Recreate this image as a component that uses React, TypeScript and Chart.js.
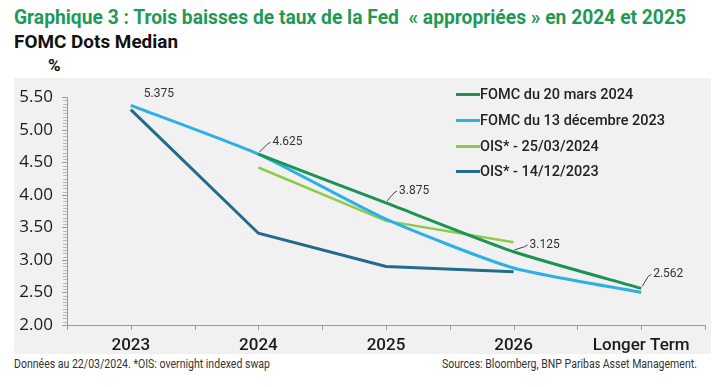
import React, { useEffect, useLayoutEffect, useRef } from "react";
import { Chart, registerables } from "chart.js";

Chart.register(...registerables);

const categories = ["2023", "2024", "2025", "2026", "Longer Term"];
const fomcMar2024 = [null, 4.625, 3.875, 3.125, 2.562];
const fomcDec2023 = [5.375, 4.625, 3.625, 2.875, 2.5];
const ois25032024 = [null, 4.42, 3.6, 3.27, null];
const ois14122023 = [5.31, 3.41, 2.9, 2.82, null];

const seriesNames = [
  "FOMC du 20 mars 2024",
  "FOMC du 13 décembre 2023",
  "OIS* - 25/03/2024",
  "OIS* - 14/12/2023",
];
const seriesColors = ["#1c9352", "#2db0e6", "#8fca4a", "#236b8c"];

const yMin = 2;
const yMax = 5.5;
const yMajorStep = 0.5;
const yMinorStep = 0.05;

const pointLabels = [
  { ds: 1, idx: 0, text: "5.375", leader: false },
  { ds: 0, idx: 1, text: "4.625", leader: true },
  { ds: 0, idx: 2, text: "3.875", leader: true },
  { ds: 0, idx: 3, text: "3.125", leader: true },
  { ds: 0, idx: 4, text: "2.562", leader: true },
];
const labelOffsets = [
  [13, -11],
  [14, -12],
  [13, -12],
  [16, -7],
  [12, -14],
];

function FitText(props: { width: number; style: React.CSSProperties; children: React.ReactNode }) {
  const ref = useRef<HTMLSpanElement>(null);
  useLayoutEffect(() => {
    const el = ref.current;
    if (!el) return;
    el.style.transform = "none";
    const w = el.getBoundingClientRect().width;
    if (w > 0) el.style.transform = `scaleX(${props.width / w})`;
  });
  return (
    <span
      ref={ref}
      style={{
        display: "inline-block",
        whiteSpace: "pre",
        transformOrigin: "0 0",
        position: "absolute",
        ...props.style,
      }}
    >
      {props.children}
    </span>
  );
}

const decorPlugin = {
  id: "decor",
  afterDraw(chart: any) {
    const ctx = chart.ctx;
    const xs = chart.scales.x;
    const ys = chart.scales.y;
    const area = chart.chartArea;
    ctx.save();
    ctx.lineWidth = 1;
    // y-axis minor/major tick marks
    const nMinor = Math.round((yMax - yMin) / yMinorStep);
    const perMajor = Math.round(yMajorStep / yMinorStep);
    for (let k = 0; k <= nMinor; k++) {
      const v = yMin + k * yMinorStep;
      const y = Math.round(ys.getPixelForValue(v)) + 0.5;
      const major = k % perMajor === 0;
      ctx.strokeStyle = major ? "#9a9a9a" : "#b8b8b8";
      ctx.beginPath();
      ctx.moveTo(area.left - (major ? 5 : 4), y);
      ctx.lineTo(area.left, y);
      ctx.stroke();
    }
    // x-axis tick marks at boundaries and centers
    ctx.strokeStyle = "#9a9a9a";
    const n = categories.length;
    const c0 = xs.getPixelForValue(0);
    const c1 = xs.getPixelForValue(1);
    const half = (c1 - c0) / 2;
    for (let i = 0; i < n; i++) {
      const c = xs.getPixelForValue(i);
      for (const x of [c - half, c, c + half]) {
        ctx.beginPath();
        ctx.moveTo(Math.round(x) + 0.5, area.bottom);
        ctx.lineTo(Math.round(x) + 0.5, area.bottom + 5);
        ctx.stroke();
      }
    }
    // data labels
    ctx.font = "12px Roboto";
    ctx.fillStyle = "#333";
    ctx.textBaseline = "middle";
    ctx.textAlign = "left";
    pointLabels.forEach((pl, k) => {
      const meta = chart.getDatasetMeta(pl.ds);
      const pt = meta.data[pl.idx];
      if (!pt) return;
      const [dx, dy] = labelOffsets[k];
      const lx = pt.x + dx;
      const ly = pt.y + dy;
      if (pl.leader) {
        ctx.strokeStyle = "#444";
        ctx.lineWidth = 1;
        ctx.beginPath();
        ctx.moveTo(pt.x + 1, pt.y - 2);
        ctx.lineTo(lx - 5, ly + 2);
        ctx.lineTo(lx - 2, ly);
        ctx.stroke();
      }
      ctx.fillText(pl.text, lx, ly);
    });
    ctx.restore();
  },
};

export default function App() {
  const canvasRef = useRef<HTMLCanvasElement>(null);

  useEffect(() => {
    const canvas = canvasRef.current;
    if (!canvas) return;
    const data = [fomcMar2024, fomcDec2023, ois25032024, ois14122023];
    const chart = new Chart(canvas, {
      type: "line",
      data: {
        labels: categories,
        datasets: data.map((d, i) => ({
          label: seriesNames[i],
          data: d,
          borderColor: seriesColors[i],
          backgroundColor: seriesColors[i],
          borderWidth: i === 2 ? 2.5 : 3,
          pointRadius: 0,
          tension: i < 2 ? 0.2 : 0,
          spanGaps: false,
        })),
      },
      options: {
        animation: false,
        responsive: false,
        maintainAspectRatio: false,
        layout: { padding: { top: 18, right: 6, left: 0, bottom: 0 } },
        plugins: {
          legend: { display: false },
          tooltip: { enabled: false },
        },
        scales: {
          x: {
            offset: true,
            grid: { display: false },
            border: { display: true, color: "#9a9a9a", width: 1 },
            ticks: {
              color: "#1a1a1a",
              font: { family: "Roboto", size: 17, weight: "500" },
              padding: 3,
              maxRotation: 0,
              autoSkip: false,
            },
            afterFit: (s: any) => {
              s.height = 29;
            },
          },
          y: {
            min: yMin,
            max: yMax,
            grid: {
              display: true,
              drawOnChartArea: false,
              drawTicks: true,
              tickLength: 5,
              color: "rgba(0,0,0,0)",
            },
            border: { display: true, color: "#9a9a9a", width: 1 },
            ticks: {
              stepSize: yMajorStep,
              autoSkip: false,
              padding: 9,
              color: "#1a1a1a",
              font: { family: "Open Sans", size: 17, weight: "500" },
              callback: (v: any) => Number(v).toFixed(2),
            },
            afterFit: (s: any) => {
              s.width = 53;
            },
          },
        },
      },
      plugins: [decorPlugin],
    });
    return () => chart.destroy();
  }, []);

  const legendRows = [94, 120, 146, 171];

  return (
    <div
      style={{
        position: "absolute",
        left: 0,
        top: 0,
        width: 725,
        height: 387,
        background: "#fff",
        fontFamily: "Roboto, sans-serif",
        overflow: "hidden",
      }}
    >
      <FitText
        width={672}
        style={{ left: 14, top: 6, fontSize: 20, lineHeight: "22px", fontWeight: 700, color: "#1f9a56" }}
      >
        {"Graphique 3 : Trois baisses de taux de la Fed  « appropriées » en 2024 et 2025"}
      </FitText>
      <FitText
        width={164}
        style={{ left: 14, top: 31, fontSize: 19, lineHeight: "22px", fontWeight: 700, color: "#111" }}
      >
        FOMC Dots Median
      </FitText>
      <div
        style={{
          position: "absolute",
          left: 48,
          top: 55,
          fontSize: 17,
          lineHeight: "20px",
          fontWeight: 700,
          color: "#111",
        }}
      >
        %
      </div>
      <canvas
        ref={canvasRef}
        width={697}
        height={276}
        style={{ position: "absolute", left: 14, top: 78, width: 697, height: 276, background: "#f1f1f1" }}
      />
      {seriesNames.map((name, i) => (
        <div
          key={name}
          style={{
            position: "absolute",
            left: 456,
            top: legendRows[i] - 10,
            height: 20,
            display: "flex",
            alignItems: "center",
          }}
        >
          <span style={{ display: "inline-block", width: 24, height: 3, background: seriesColors[i] }} />
          <span style={{ fontSize: 14.5, fontWeight: 500, color: "#222", whiteSpace: "nowrap" }}>{name}</span>
        </div>
      ))}
      <FitText
        width={256}
        style={{ left: 14, top: 357, fontSize: 12, lineHeight: "14px", color: "#333" }}
      >
        Données au 22/03/2024. *OIS: overnight indexed swap
      </FitText>
      <FitText
        width={255}
        style={{ left: 442, top: 357, fontSize: 12, lineHeight: "14px", color: "#333" }}
      >
        Sources: Bloomberg, BNP Paribas Asset Management.
      </FitText>
    </div>
  );
}
